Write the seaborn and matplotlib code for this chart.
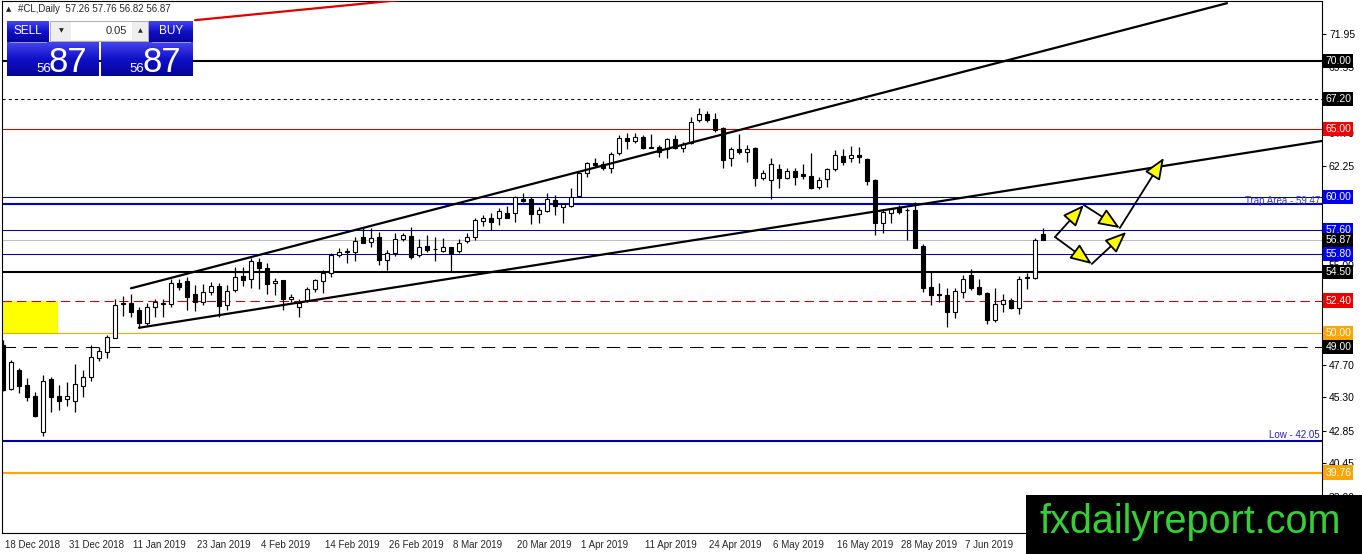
import numpy as np
import pandas as pd
import seaborn as sns
import matplotlib
matplotlib.use("Agg")
import matplotlib.pyplot as plt
from matplotlib.colors import LinearSegmentedColormap
from matplotlib.patches import Rectangle
from matplotlib.transforms import blended_transform_factory, offset_copy

# daily candles, #CL (18 Dec 2018 - 14 Jun 2019)
opens = [49.15, 45.88, 47.30, 46.20, 45.39, 42.77, 46.62, 45.39, 45.14, 45.04,
         46.15, 46.81, 48.20, 48.64, 49.67, 52.20, 52.25, 51.71, 50.73, 51.90,
         52.18, 52.13, 53.67, 53.86, 52.88, 52.32, 53.05, 53.47, 52.08, 53.18,
         54.20, 53.96, 55.21, 54.77, 53.67, 53.91, 52.49, 51.90, 52.39, 53.23,
         53.86, 54.45, 55.75, 55.97, 55.95, 57.05, 56.73, 57.05, 55.38, 55.87,
         56.90, 57.15, 55.75, 56.41, 56.17, 56.07, 56.36, 56.07, 56.80, 57.05,
         58.27, 58.49, 58.45, 58.86, 58.86, 59.86, 59.84, 58.76, 59.00, 59.79,
         59.25, 59.35, 60.08, 61.80, 62.53, 62.44, 62.12, 63.22, 64.37, 64.13,
         64.45, 63.66, 63.71, 63.54, 64.27, 63.63, 63.96, 65.67, 66.09, 65.74,
         65.05, 62.85, 63.54, 63.29, 63.59, 61.43, 61.26, 62.06, 61.38, 61.92,
         61.68, 61.55, 60.77, 61.31, 62.04, 63.02, 62.85, 63.10, 62.78, 61.26,
         58.12, 58.86, 59.25, 59.04, 59.06, 56.43, 53.38, 52.88, 52.81, 51.58,
         53.01, 54.28, 53.42, 52.93, 50.97, 52.13, 52.44, 51.88, 54.04, 54.04,
         57.26]
highs = [49.50, 48.03, 47.42, 46.69, 45.71, 46.93, 46.76, 46.20, 46.44, 47.74,
         47.30, 49.14, 49.00, 49.87, 52.49, 52.74, 52.88, 51.95, 52.25, 52.49,
         52.49, 53.96, 53.96, 54.11, 53.54, 53.62, 53.79, 53.67, 53.54, 54.89,
         54.85, 55.50, 55.50, 55.14, 54.04, 53.91, 52.88, 52.52, 53.40, 53.96,
         54.65, 55.87, 56.24, 56.24, 57.09, 57.71, 57.71, 57.46, 56.12, 57.34,
         57.39, 57.78, 56.90, 57.22, 57.05, 56.98, 56.36, 56.90, 57.34, 58.45,
         58.69, 58.86, 59.18, 59.35, 60.08, 60.33, 60.03, 59.25, 60.28, 60.16,
         59.55, 60.65, 61.87, 62.60, 62.85, 62.68, 63.34, 64.57, 64.69, 64.69,
         64.57, 64.62, 63.83, 64.37, 64.57, 64.07, 65.91, 66.53, 66.33, 66.16,
         65.18, 63.71, 64.62, 63.83, 63.71, 61.99, 62.90, 62.44, 62.12, 62.12,
         62.44, 63.22, 61.50, 62.12, 63.46, 63.52, 63.76, 63.71, 62.85, 61.31,
         59.06, 59.18, 59.42, 59.18, 59.62, 56.53, 54.52, 53.67, 53.30, 53.35,
         54.28, 54.72, 53.99, 53.05, 53.35, 52.86, 52.57, 54.23, 54.40, 57.02,
         57.76]
lows = [45.75, 45.83, 45.59, 45.02, 43.82, 42.45, 44.24, 44.36, 44.68, 44.24,
        45.29, 46.51, 47.98, 48.20, 49.62, 51.27, 51.17, 50.36, 50.60, 51.17,
        51.17, 51.95, 53.18, 51.71, 51.66, 52.08, 52.81, 51.22, 51.71, 53.05,
        53.47, 53.30, 53.23, 52.86, 52.81, 51.71, 52.32, 51.17, 52.30, 53.05,
        52.98, 54.15, 55.62, 55.18, 55.33, 56.61, 56.36, 55.01, 54.65, 55.68,
        56.80, 55.43, 55.62, 55.99, 55.33, 55.99, 54.52, 55.92, 56.65, 56.85,
        57.88, 57.59, 57.95, 58.49, 58.20, 59.67, 58.03, 58.08, 58.93, 58.69,
        58.12, 59.30, 59.99, 61.45, 62.24, 61.99, 61.75, 63.10, 63.54, 63.96,
        63.54, 63.59, 62.97, 62.90, 63.54, 63.34, 63.88, 65.54, 65.54, 64.81,
        62.16, 62.31, 63.15, 62.60, 60.84, 61.26, 59.86, 60.65, 61.31, 60.89,
        61.31, 60.57, 60.57, 60.77, 61.94, 62.36, 62.60, 62.53, 60.89, 57.22,
        57.39, 58.08, 58.76, 56.85, 56.24, 53.01, 52.08, 52.32, 50.48, 51.10,
        52.57, 53.18, 52.81, 50.66, 50.85, 51.58, 51.78, 51.39, 53.25, 53.99,
        56.82]
closes = [45.85, 47.91, 46.15, 45.29, 43.94, 46.51, 45.29, 45.04, 45.39, 46.25,
          46.76, 48.23, 48.70, 49.70, 52.07, 52.15, 51.58, 50.73, 51.90, 52.30,
          52.22, 53.67, 53.42, 52.69, 52.32, 53.05, 53.47, 52.00, 53.13, 54.11,
          53.91, 55.31, 54.77, 53.60, 53.84, 52.49, 52.64, 52.20, 53.23, 53.91,
          54.40, 55.75, 55.95, 56.01, 56.80, 56.65, 56.98, 55.38, 55.92, 56.90,
          57.22, 55.58, 56.36, 56.12, 56.21, 56.36, 55.92, 56.65, 57.05, 58.32,
          58.45, 58.20, 59.00, 58.49, 59.99, 59.74, 58.74, 59.05, 59.89, 59.35,
          59.47, 60.03, 61.75, 62.48, 62.36, 62.14, 63.15, 64.37, 64.13, 64.45,
          63.59, 63.59, 63.34, 64.27, 63.63, 63.88, 65.54, 66.09, 65.67, 64.93,
          62.73, 63.54, 63.34, 63.54, 61.43, 61.75, 62.41, 61.38, 61.92, 61.50,
          61.55, 60.69, 61.26, 62.04, 63.10, 62.60, 63.10, 62.93, 61.21, 58.08,
          58.93, 59.10, 58.93, 59.08, 56.29, 53.30, 52.81, 52.81, 51.58, 53.10,
          53.99, 53.35, 52.88, 50.97, 52.13, 52.44, 51.83, 53.99, 54.12, 56.85,
          56.87]

date_labels = ["18 Dec 2018", "31 Dec 2018", "11 Jan 2019", "23 Jan 2019",
               "4 Feb 2019", "14 Feb 2019", "26 Feb 2019", "8 Mar 2019",
               "20 Mar 2019", "1 Apr 2019", "11 Apr 2019", "24 Apr 2019",
               "6 May 2019", "16 May 2019", "28 May 2019", "7 Jun 2019"]
bars_per_label = 8

price_ticks = [71.95, 69.55, 67.10, 64.70, 62.25, 59.85, 57.40, 55.00,
               52.55, 50.15, 47.70, 45.30, 42.85, 40.45, 38.00]
# tick labels fully covered by level boxes in the original
covered_ticks = [67.10, 59.85, 57.40, 52.55, 50.15]

# horizontal levels drawn on the chart
levels = [70.00, 67.20, 65.00, 60.00, 59.47, 57.60, 56.87, 55.80,
          54.50, 52.40, 50.00, 49.00, 42.05, 39.76]
boxed_levels = [70.00, 67.20, 65.00, 60.00, 57.60, 56.87, 55.80,
                54.50, 52.40, 50.00, 49.00, 39.76]
trap_level = 59.47
low_level = 42.05

# trend lines (bar index, price)
upper_x, upper_y = [16, 153], [53.3, 74.25]
lower_x, lower_y = [17, 164.9], [50.4, 64.13]
red_x, red_y = [24, 50], [73.0, 74.5]

# yellow zone
zone_x = [-0.5, 6.9]
zone_low, zone_high = 50.00, 52.40

# projected path arrows
path_x = [131.5, 135.1, 139.6, 136.1, 140.4, 145.1]
path_y = [57.07, 59.42, 57.73, 55.09, 57.44, 62.88]
path_links = [(0, 1), (1, 2), (0, 3), (3, 4), (2, 5)]

# ---------------------------------------------------------------------------
NAVY = "#0000a0"
BLUE = "#0000ee"
RED = "#ee0000"
ORANGE = "#ffa500"

level_style = {
    70.00: dict(color="black", lw=1.5, ls="-"),
    67.20: dict(color="black", lw=0.75, ls=(0, (3, 3))),
    65.00: dict(color="#d00000", lw=0.75, ls="-"),
    60.00: dict(color=NAVY, lw=0.75, ls="-"),
    59.47: dict(color="#0000cc", lw=1.5, ls="-"),
    57.60: dict(color=NAVY, lw=0.75, ls="-"),
    56.87: dict(color="#c0c0c0", lw=0.75, ls="-"),
    55.80: dict(color=NAVY, lw=0.75, ls="-"),
    54.50: dict(color="black", lw=1.5, ls="-"),
    52.40: dict(color="#cc0000", lw=0.75, ls=(0, (9, 5))),
    50.00: dict(color=ORANGE, lw=0.75, ls="-"),
    49.00: dict(color="black", lw=0.75, ls=(0, (13, 7))),
    42.05: dict(color=NAVY, lw=1.5, ls="-"),
    39.76: dict(color=ORANGE, lw=1.5, ls="-"),
}
box_color = {70.00: "black", 67.20: "black", 65.00: RED, 60.00: BLUE,
             57.60: BLUE, 56.87: "black", 55.80: BLUE, 54.50: "black",
             52.40: RED, 50.00: ORANGE, 49.00: "black", 39.76: ORANGE}

sns.set_style("white")
plt.rcParams["font.family"] = ["Liberation Sans", "DejaVu Sans"]

W, H = 1362, 554
fig = plt.figure(figsize=(W / 100, H / 100), dpi=100)
ax = fig.add_axes([2 / W, (H - 533) / H, 1320 / W, 532 / H])
ax.set_facecolor("white")

df = pd.DataFrame({"open": opens, "high": highs, "low": lows, "close": closes})
df["bar"] = np.arange(len(df))
df["up"] = df["close"] >= df["open"]

ax.fill_between(zone_x, zone_low, zone_high, color="yellow", lw=0, zorder=1)

for lv in levels:
    st = level_style[lv]
    ax.axhline(lv, color=st["color"], lw=st["lw"], ls=st["ls"], zorder=1.5)

# candles
ax.vlines(df["bar"], df["low"], df["high"], color="black", lw=0.9, zorder=2)
body_bottom = df[["open", "close"]].min(axis=1)
body_height = (df["close"] - df["open"]).abs()
ax.bar(df["bar"], body_height, bottom=body_bottom, width=0.55,
       color=np.where(df["up"], "white", "black"), edgecolor="black",
       lw=0.8, zorder=3)

# trend lines
trend = pd.DataFrame({
    "x": upper_x + lower_x + red_x,
    "y": upper_y + lower_y + red_y,
    "line": ["upper"] * 2 + ["lower"] * 2 + ["red"] * 2,
})
sns.lineplot(data=trend, x="x", y="y", hue="line",
             palette={"upper": "black", "lower": "black", "red": "#dd0000"},
             lw=1.6, legend=False, ax=ax, zorder=4, estimator=None, sort=False)

# projected path
for a, b in path_links:
    ax.annotate("", xy=(path_x[b], path_y[b]), xytext=(path_x[a], path_y[a]),
                arrowprops=dict(arrowstyle="-|>,head_length=1.1,head_width=0.45",
                                fc="#ffff00", ec="black", lw=1.3,
                                mutation_scale=12, shrinkA=0, shrinkB=0),
                zorder=5)

ax.set_xlim(-0.125, 164.875)
ax.set_ylim(35.32, 74.41)

# axes, ticks
ax.yaxis.tick_right()
ax.set_yticks(price_ticks)
ax.set_yticklabels(["" if t in covered_ticks else f"{t:.2f}" for t in price_ticks])
ax.tick_params(axis="y", length=3, width=0.75, pad=2, labelsize=7.5,
               colors="black")
tick_pos = np.arange(len(date_labels)) * bars_per_label
ax.set_xticks(tick_pos)
ax.set_xticklabels(date_labels, ha="left")
ax.tick_params(axis="x", length=4, width=0.75, pad=1, labelsize=7)
for lab in ax.get_xticklabels():
    lab.set_transform(offset_copy(lab.get_transform(), fig=fig, x=1.5, units="points"))
ax.set_xlabel("")
ax.set_ylabel("")
for sp in ax.spines.values():
    sp.set_visible(True)
    sp.set_color("black")
    sp.set_linewidth(0.8)

trans = blended_transform_factory(ax.transAxes, ax.transData)
for lv in boxed_levels:
    ax.text(1.0025, lv, f"{lv:.2f}", transform=trans, ha="left", va="center",
            fontsize=7.5, color="white", clip_on=False, zorder=6,
            bbox=dict(boxstyle="square,pad=0.2", fc=box_color[lv], ec="none"))

ax.text(0.9985, (trap_level + 60.00) / 2, f"Trap Area - {trap_level:.2f}",
        transform=trans, ha="right", va="center", fontsize=7,
        color="#3535c8", zorder=6)
ax.text(0.9985, low_level + 0.12, f"Low - {low_level:.2f}", transform=trans,
        ha="right", va="bottom", fontsize=7, color="#2020b0", zorder=6)

# ---------------------------------------------------------------------------
# overlay: trade panel, header and logo (pixel coordinates)
ov = fig.add_axes([0, 0, 1, 1], zorder=10)
ov.axis("off")
grad = LinearSegmentedColormap.from_list("mt", ["#4444ee", "#1010c8", "#05059a"])
g = np.linspace(0, 1, 64).reshape(-1, 1)

def panel(x0, x1, y0, y1):
    ov.imshow(g, cmap=grad, extent=(x0, x1, y1, y0), aspect="auto",
              interpolation="bilinear", zorder=1)

panel(7, 49, 21, 42)
panel(149, 193, 21, 42)
panel(7, 99, 42, 76)
panel(101, 193, 42, 76)
ov.plot([10, 46], [42, 42], color="#9a9ae8", lw=0.7, zorder=2)
ov.plot([152, 190], [42, 42], color="#9a9ae8", lw=0.7, zorder=2)
ov.add_patch(Rectangle((50, 21), 98, 20, fc="#eeeeee", ec="#a0a0a0", lw=0.6, zorder=1))
ov.add_patch(Rectangle((71, 22), 61, 18, fc="white", ec="none", zorder=2))
ov.text(61, 31, "▼", fontsize=4.5, ha="center", va="center", family="DejaVu Sans", zorder=3)
ov.text(140, 31, "▲", fontsize=4.5, ha="center", va="center", family="DejaVu Sans", zorder=3)
ov.text(127, 31, "0.05", fontsize=8, ha="right", va="center", zorder=3)
ov.text(28, 31, "SELL", fontsize=8.5, color="white", ha="center", va="center", zorder=3)
ov.text(171, 31, "BUY", fontsize=8.5, color="white", ha="center", va="center", zorder=3)

bid = f"{closes[-1]:.2f}"
big_part, small_part = bid.split(".")[1], bid.split(".")[0]
for x_small, x_big in [(36, 49), (129, 143)]:
    ov.text(x_small, 72, small_part, fontsize=9.5, color="white", ha="left",
            va="baseline", zorder=3)
    ov.text(x_big, 72.5, big_part, fontsize=25, color="white", ha="left",
            va="baseline", zorder=3)

ov.text(6, 9.5, "▲", fontsize=5, ha="left", va="center", family="DejaVu Sans")
ov.text(18, 9.5, f"#CL,Daily  {opens[-1]:.2f} {highs[-1]:.2f} "
        f"{lows[-1]:.2f} {closes[-1]:.2f}", fontsize=7, ha="left", va="center")

ov.add_patch(Rectangle((1026, 495), W - 1026, H - 495, fc="black", ec="none", zorder=1))
ov.text(1040, 533, "fxdailyreport.com", fontsize=28.5, color="#35d035",
        ha="left", va="baseline", zorder=2)

ov.set_xlim(0, W)
ov.set_ylim(H, 0)

fig.savefig("out.png", dpi=100)
